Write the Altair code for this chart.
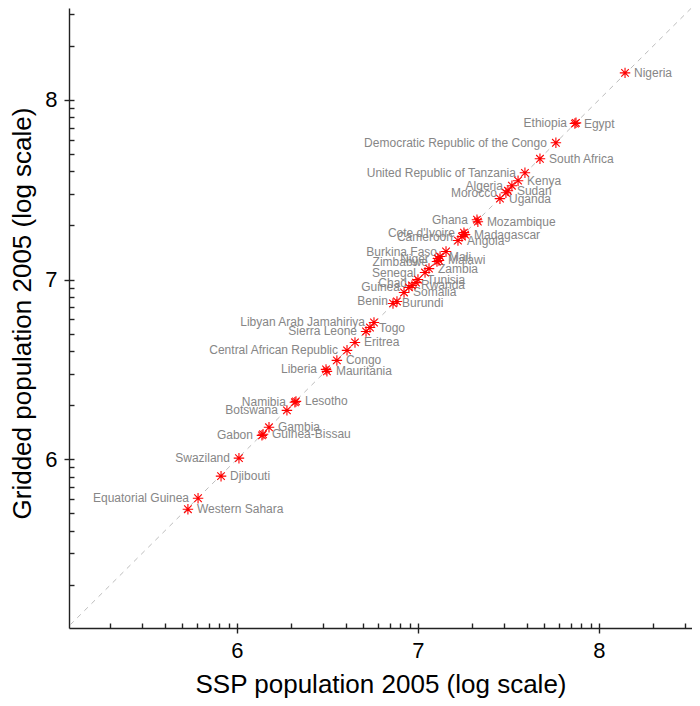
import math
import altair as alt
import pandas as pd

countries = ["Nigeria", "Ethiopia", "Egypt", "Democratic Republic of the Congo", "South Africa",
             "United Republic of Tanzania", "Kenya", "Algeria", "Sudan", "Morocco", "Uganda",
             "Ghana", "Mozambique", "Cote d'Ivoire", "Madagascar", "Cameroon", "Angola",
             "Burkina Faso", "Mali", "Niger", "Zimbabwe", "Malawi", "Zambia", "Senegal",
             "Tunisia", "Chad", "Rwanda", "Guinea", "Somalia", "Benin", "Burundi",
             "Libyan Arab Jamahiriya", "Togo", "Sierra Leone", "Eritrea", "Central African Republic",
             "Congo", "Liberia", "Mauritania", "Namibia", "Lesotho", "Botswana", "Gambia",
             "Gabon", "Guinea-Bissau", "Swaziland", "Djibouti", "Equatorial Guinea", "Western Sahara"]
ssp_log = [8.144, 7.873, 7.867, 7.762, 7.674,
           7.591, 7.553, 7.519, 7.497, 7.486, 7.453,
           7.326, 7.331, 7.254, 7.260, 7.243, 7.221,
           7.155, 7.122, 7.110, 7.105, 7.116, 7.061, 7.039,
           7.000, 6.989, 6.967, 6.950, 6.923, 6.884, 6.862,
           6.757, 6.735, 6.713, 6.652, 6.608,
           6.552, 6.492, 6.497, 6.320, 6.326, 6.276, 6.177,
           6.138, 6.144, 6.011, 5.912, 5.785, 5.729]
gridded_log = [8.150, 7.872, 7.868, 7.761, 7.672,
               7.594, 7.550, 7.522, 7.494, 7.483, 7.450,
               7.333, 7.322, 7.261, 7.250, 7.239, 7.217,
               7.156, 7.128, 7.117, 7.100, 7.106, 7.061, 7.039,
               7.000, 6.983, 6.967, 6.956, 6.928, 6.878, 6.867,
               6.761, 6.733, 6.711, 6.650, 6.606,
               6.550, 6.500, 6.489, 6.317, 6.322, 6.272, 6.178,
               6.133, 6.139, 6.006, 5.906, 5.783, 5.722]
label_side = ["R", "L", "R", "L", "R",
              "L", "R", "L", "R", "L", "R",
              "L", "R", "L", "R", "L", "R",
              "L", "R", "L", "L", "R", "R", "L",
              "R", "L", "R", "L", "R", "L", "R",
              "L", "R", "L", "R", "L",
              "R", "L", "R", "L", "R", "L", "R",
              "L", "R", "L", "R", "L", "R"]

major_ticks = [6, 7, 8]
minor_ticks = [math.log10(k * 10 ** n) for n in range(5, 9) for k in range(1, 10)]
x_domain = [5.072, 8.514]
y_domain = [5.061, 8.511]
diag = [5.0, 8.6]

df = pd.DataFrame({"country": countries, "ssp": ssp_log, "gridded": gridded_log, "side": label_side})
ddf = pd.DataFrame({"a": diag, "b": diag})

FONT = "Liberation Sans"
xs = alt.Scale(domain=x_domain, zero=False, nice=False)
ys = alt.Scale(domain=y_domain, zero=False, nice=False)

minor_axis = dict(offset=-5, tickSize=5, domain=False, labels=False, grid=False, title=None,
                  tickColor="#222222", tickWidth=1.4)

diag_layer = alt.Chart(ddf).mark_line(clip=True, color="#bdbdbd", strokeWidth=1,
                                      strokeDash=[5, 5]).encode(
    x=alt.X("a:Q", scale=xs, axis=alt.Axis(values=minor_ticks, orient="bottom", **minor_axis)),
    y=alt.Y("b:Q", scale=ys, axis=alt.Axis(values=minor_ticks, orient="left", **minor_axis)),
)

asterisk = "M-1,0L1,0M0,-1L0,1M-0.72,-0.72L0.72,0.72M-0.72,0.72L0.72,-0.72"

points = alt.Chart(df).mark_point(shape=asterisk, filled=False, color="#ff0000",
                                  strokeWidth=1.1, size=110, opacity=1).encode(
    x=alt.X("ssp:Q", scale=xs,
            axis=alt.Axis(values=major_ticks, format="d", tickSize=5, labelPadding=7,
                          orient="bottom",
                          title="SSP population 2005 (log scale)",
                          titleY=64, titleBaseline="alphabetic")),
    y=alt.Y("gridded:Q", scale=ys,
            axis=alt.Axis(values=major_ticks, format="d", tickSize=5, labelPadding=7,
                          orient="left",
                          title="Gridded population 2005 (log scale)",
                          titleX=-47, titleY=305, titleBaseline="middle", titleAngle=-90)),
)

labels_left = alt.Chart(df).transform_filter(alt.datum.side == "L").mark_text(
    align="right", baseline="middle", dx=-9, font=FONT, fontSize=12, color="#868686").encode(
    x=alt.X("ssp:Q", scale=xs, axis=None),
    y=alt.Y("gridded:Q", scale=ys, axis=None),
    text="country:N",
)
labels_right = alt.Chart(df).transform_filter(alt.datum.side == "R").mark_text(
    align="left", baseline="middle", dx=9, font=FONT, fontSize=12, color="#868686").encode(
    x=alt.X("ssp:Q", scale=xs, axis=None),
    y=alt.Y("gridded:Q", scale=ys, axis=None),
    text="country:N",
)

chart = alt.layer(diag_layer, labels_left, labels_right, points).resolve_axis(
    x="independent", y="independent"
).properties(
    width=623, height=620,
    autosize=alt.AutoSizeParams(type="none"),
    padding={"left": 61, "top": 0, "right": 0, "bottom": 70},
).configure_view(stroke=None).configure_axis(
    grid=False, domainColor="#222222", domainWidth=1.4, tickColor="#222222", tickWidth=1.4,
    labelFont=FONT, labelFontSize=22, labelColor="#000000",
    titleFont=FONT, titleFontSize=26, titleFontWeight="normal", titleColor="#000000",
)

chart.save("out.html", embed_options={"renderer": "svg", "actions": False})
